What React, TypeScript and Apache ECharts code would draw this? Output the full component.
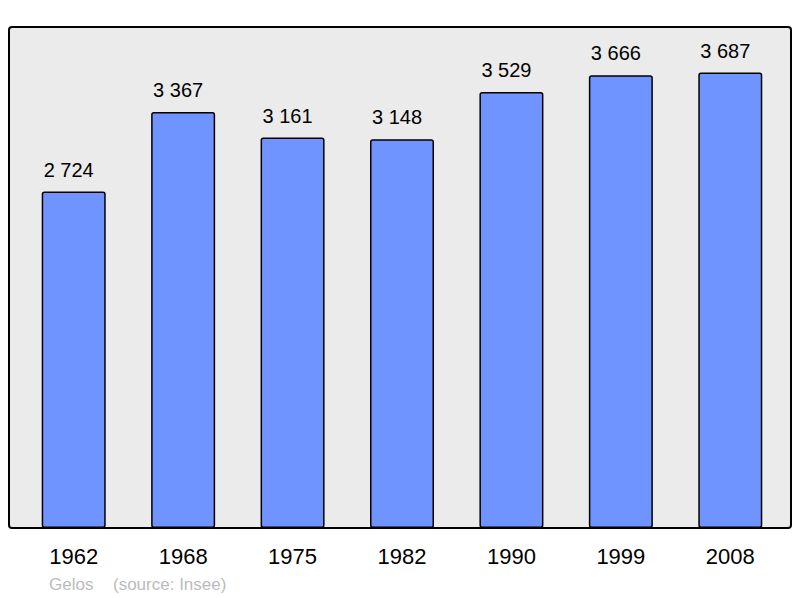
import React, { useEffect, useRef } from "react";
import * as echarts from "echarts";

const years = ["1962", "1968", "1975", "1982", "1990", "1999", "2008"];
const population = [2724, 3367, 3161, 3148, 3529, 3666, 3687];
const commune = "Gelos";
const source = "(source: Insee)";

const fmt = (v: number) => String(v).replace(/\B(?=(\d{3})+(?!\d))/g, " ");
const FONT = "Liberation Sans, Arial, sans-serif";

export default function App() {
  const ref = useRef<HTMLDivElement>(null);
  useEffect(() => {
    const chart = echarts.init(ref.current!, undefined, { renderer: "svg" });
    chart.setOption({
      animation: false,
      backgroundColor: "#ffffff",
      textStyle: { fontFamily: FONT },
      graphic: [
        {
          type: "rect",
          z: 0,
          shape: { x: 9, y: 27, width: 782, height: 501, r: 3 },
          style: { fill: "#ebebeb", stroke: "#000000", lineWidth: 2 },
        },
        {
          type: "text",
          z: 10,
          x: 49,
          y: 584,
          style: { text: commune, fill: "#bbbbbb", fontSize: 17, fontFamily: FONT, verticalAlign: "middle" },
        },
        {
          type: "text",
          z: 10,
          x: 113,
          y: 584,
          style: { text: source, fill: "#bbbbbb", fontSize: 17, fontFamily: FONT, verticalAlign: "middle" },
        },
      ],
      grid: { left: 19, right: 15, top: 27, bottom: 70, containLabel: false },
      xAxis: {
        type: "category",
        data: years,
        axisLine: { show: false },
        axisTick: { show: false },
        axisLabel: { color: "#000000", fontSize: 22, margin: 17, fontFamily: FONT },
      },
      yAxis: {
        type: "value",
        min: 0,
        max: 4056,
        show: false,
        splitLine: { show: false },
      },
      series: [
        {
          type: "bar",
          data: population,
          barWidth: 64,
          z: 2,
          itemStyle: {
            color: "#7094ff",
            borderColor: "#000000",
            borderWidth: 1.5,
            borderRadius: 2,
          },
          label: {
            show: true,
            position: "top",
            distance: 12,
            offset: [-5, 0],
            color: "#000000",
            fontSize: 20,
            fontFamily: FONT,
            formatter: (p: any) => fmt(p.value),
          },
        },
      ],
    });
    return () => chart.dispose();
  }, []);
  return <div ref={ref} style={{ width: 800, height: 598, position: "absolute", left: 0, top: 0 }} />;
}
